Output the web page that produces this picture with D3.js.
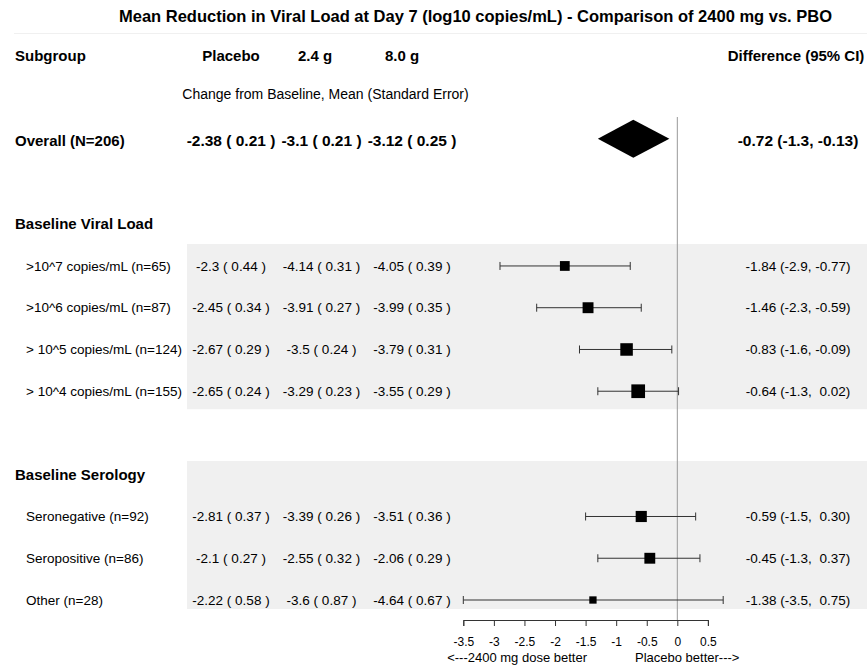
<!DOCTYPE html>
<html><head><meta charset="utf-8">
<script src="https://cdn.jsdelivr.net/npm/d3@7"></script>
<style>
body{margin:0;background:#fff}
text{font-family:"Liberation Sans",Arial,sans-serif;fill:#000}
</style>
</head><body>
<svg id="chart" width="867" height="668"></svg>
<script>
// ---------- data ----------
const chartTitle = "Mean Reduction in Viral Load at Day 7 (log10 copies/mL) - Comparison of 2400 mg vs. PBO";
const columnHeaders = ["Placebo", "2.4 g", "8.0 g"];
const subHeader = "Change from Baseline, Mean (Standard Error)";
const diffHeader = "Difference (95% CI)";
const rowLabels = ["Overall (N=206)", "", "Baseline Viral Load",
  ">10^7 copies/mL (n=65)", ">10^6 copies/mL (n=87)", "> 10^5 copies/mL (n=124)", "> 10^4 copies/mL (n=155)",
  "", "Baseline Serology",
  "Seronegative (n=92)", "Seropositive (n=86)", "Other (n=28)"];
const rowKinds = ["overall", "blank", "group", "sub", "sub", "sub", "sub", "blank", "group", "sub", "sub", "sub"];
const rowN = [206, null, null, 65, 87, 124, 155, null, null, 92, 86, 28];
const placeboMean = [-2.38, null, null, -2.3, -2.45, -2.67, -2.65, null, null, -2.81, -2.1, -2.22];
const placeboSE   = [0.21, null, null, 0.44, 0.34, 0.29, 0.24, null, null, 0.37, 0.27, 0.58];
const dose24Mean  = [-3.1, null, null, -4.14, -3.91, -3.5, -3.29, null, null, -3.39, -2.55, -3.6];
const dose24SE    = [0.21, null, null, 0.31, 0.27, 0.24, 0.23, null, null, 0.26, 0.32, 0.87];
const dose80Mean  = [-3.12, null, null, -4.05, -3.99, -3.79, -3.55, null, null, -3.51, -2.06, -4.64];
const dose80SE    = [0.25, null, null, 0.39, 0.35, 0.31, 0.29, null, null, 0.36, 0.29, 0.67];
const diffEst  = [-0.72, null, null, -1.84, -1.46, -0.83, -0.64, null, null, -0.59, -0.45, -1.38];
const diffLow  = [-1.3, null, null, -2.9, -2.3, -1.6, -1.3, null, null, -1.5, -1.3, -3.5];
const diffHigh = [-0.13, null, null, -0.77, -0.59, -0.09, 0.02, null, null, 0.30, 0.37, 0.75];
const shadedGroups = [[3, 6], [8, 11]];
const xTicks = [-3.5, -3, -2.5, -2, -1.5, -1, -0.5, 0, 0.5];
const axisLeftLabel = "<---2400 mg dose better";
const axisRightLabel = "Placebo better--->";

// ---------- layout ----------
const svg = d3.select("#chart");
const W = 867, H = 668;
const x = d3.scaleLinear().domain([-3.5, 0.5]).range([463.3, 707.9]);
const y = d3.scalePoint().domain(d3.range(rowLabels.length)).range([140.7, 600]);
const colX = d3.scalePoint().domain(d3.range(3)).range([231, 412]);
const headerColX = [231, 315, 402];
const diffX = 798;
const axisY = 620;
const sizeScale = d3.scaleSqrt().domain([28, 155]).range([7.3, 13.7]);
const bandPad = [[22, 18], [13.7, 9]];

// faint rule under title
svg.append("line").attr("x1", 14).attr("x2", W).attr("y1", 33.5).attr("y2", 33.5)
  .attr("stroke", "#f0f0f0").attr("stroke-width", 1);

// shaded bands
shadedGroups.forEach((g, i) => {
  const y0 = y(g[0]) - bandPad[i][0], y1 = y(g[1]) + bandPad[i][1];
  svg.append("rect").attr("x", 187).attr("y", y0).attr("width", W - 187).attr("height", y1 - y0)
    .attr("fill", "#f0f0f0");
});

// title
svg.append("text").attr("x", 475.5).attr("y", 22).attr("text-anchor", "middle")
  .attr("font-weight", "bold").attr("font-size", 16.5).text(chartTitle);

// header row
svg.append("text").attr("x", 15).attr("y", 56).attr("dy", "0.35em")
  .attr("font-weight", "bold").attr("font-size", 15).text("Subgroup");
columnHeaders.forEach((h, i) => {
  svg.append("text").attr("x", headerColX[i]).attr("y", 56).attr("dy", "0.35em").attr("text-anchor", "middle")
    .attr("font-weight", "bold").attr("font-size", 15).text(h);
});
svg.append("text").attr("x", 796).attr("y", 56).attr("dy", "0.35em").attr("text-anchor", "middle")
  .attr("font-weight", "bold").attr("font-size", 15).text(diffHeader);
svg.append("text").attr("x", 325.5).attr("y", 94).attr("dy", "0.35em").attr("text-anchor", "middle")
  .attr("font-size", 14).text(subHeader);

// reference line at 0
svg.append("line").attr("x1", x(0)).attr("x2", x(0)).attr("y1", 117).attr("y2", axisY)
  .attr("stroke", "#999").attr("stroke-width", 1);

// rows
const fmtMSE = (m, s) => `${m} ( ${s} )`;
const fmtDiff = (e, l, h) => `${e.toFixed(2)} (${l}, ${h >= 0 ? " " : ""}${h.toFixed(2)})`;
rowLabels.forEach((lab, i) => {
  const kind = rowKinds[i];
  if (kind === "blank") return;
  const bold = kind !== "sub";
  const fs = bold ? 15 : 13.5;
  const yy = y(i);
  svg.append("text").attr("x", kind === "sub" ? 26 : 15).attr("y", yy).attr("dy", "0.35em")
    .attr("font-weight", bold ? "bold" : "normal").attr("font-size", fs).text(lab);
  if (kind === "group") return;
  const nfs = kind === "overall" ? 15.5 : fs;
  [[placeboMean, placeboSE], [dose24Mean, dose24SE], [dose80Mean, dose80SE]].forEach((arr, c) => {
    svg.append("text").attr("x", colX(c)).attr("y", yy).attr("dy", "0.35em").attr("text-anchor", "middle")
      .style("white-space", "pre")
      .attr("font-weight", bold ? "bold" : "normal").attr("font-size", nfs).text(fmtMSE(arr[0][i], arr[1][i]));
  });
  svg.append("text").attr("x", diffX).attr("y", yy).attr("dy", "0.35em").attr("text-anchor", "middle")
    .style("white-space", "pre")
    .attr("font-weight", bold ? "bold" : "normal").attr("font-size", nfs)
    .text(fmtDiff(diffEst[i], diffLow[i], diffHigh[i]));

  if (kind === "overall") {
    const cy = yy - 2, hh = 19;
    svg.append("path")
      .attr("d", `M${x(diffLow[i])},${cy}L${x(diffEst[i])},${cy - hh}L${x(diffHigh[i])},${cy}L${x(diffEst[i])},${cy + hh}Z`)
      .attr("fill", "#000");
  } else {
    const g = svg.append("g");
    g.append("line").attr("x1", x(diffLow[i])).attr("x2", x(diffHigh[i])).attr("y1", yy).attr("y2", yy)
      .attr("stroke", "#333").attr("stroke-width", 1);
    [diffLow[i], diffHigh[i]].forEach(v => {
      g.append("line").attr("x1", x(v)).attr("x2", x(v)).attr("y1", yy - 4).attr("y2", yy + 4)
        .attr("stroke", "#333").attr("stroke-width", 1);
    });
    const s = sizeScale(rowN[i]);
    g.append("rect").attr("x", x(diffEst[i]) - s / 2).attr("y", yy - s / 2).attr("width", s).attr("height", s)
      .attr("fill", "#000");
  }
});

// axis
const axis = d3.axisBottom(x).tickValues(xTicks).tickSize(6).tickSizeOuter(6).tickPadding(11)
  .tickFormat(d => String(d));
const ag = svg.append("g").attr("transform", `translate(0,${axisY})`).call(axis);
ag.select(".domain").attr("stroke", "#333");
ag.selectAll(".tick line").attr("stroke", "#333");
ag.selectAll(".tick text").attr("font-size", 12).attr("fill", "#000")
  .attr("font-family", "Liberation Sans, Arial, sans-serif");

svg.append("text").attr("x", 587).attr("y", 657).attr("dy", "0.35em").attr("text-anchor", "end")
  .attr("font-size", 13).text(axisLeftLabel);
svg.append("text").attr("x", 635).attr("y", 657).attr("dy", "0.35em").attr("text-anchor", "start")
  .attr("font-size", 13).text(axisRightLabel);
</script>
</body></html>
